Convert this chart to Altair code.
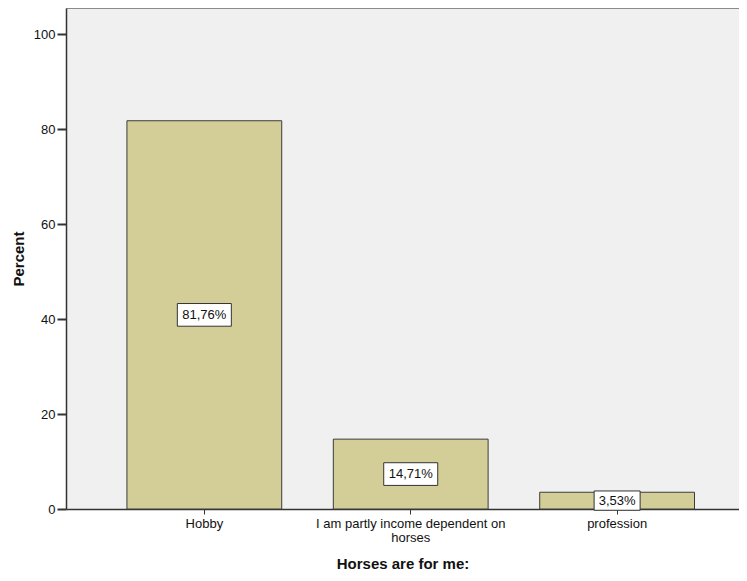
import altair as alt
import pandas as pd

categories = ["Hobby", "I am partly income dependent on horses", "profession"]
percents = [81.76, 14.71, 3.53]
labels = ["81,76%", "14,71%", "3,53%"]

df = pd.DataFrame({"cat": categories, "pct": percents, "lab": labels})

FONT = "Liberation Sans"

xscale = alt.Scale(domain=categories, paddingInner=0.25, paddingOuter=0.2554, align=0.578)
xenc = alt.X(
    "cat:N",
    scale=xscale,
    sort=categories,
    title="Horses are for me:",
    axis=alt.Axis(
        labelAngle=0,
        labelLimit=0,
        labelExpr="datum.value == 'I am partly income dependent on horses' ? ['I am partly income dependent on', 'horses'] : datum.value",
        tickSize=5,
        labelPadding=3,
        titlePadding=12,
        labelLineHeight=14,
    ),
)

base = alt.Chart(df)

bars = base.mark_bar(color="#d3ce97", stroke="#3c3c3c", strokeWidth=1).encode(
    x=xenc,
    y=alt.Y(
        "pct:Q",
        scale=alt.Scale(domain=[0, 105.5], nice=False),
        title="Percent",
        axis=alt.Axis(values=[0, 20, 40, 60, 80, 100], tickSize=9, tickWidth=2,
                      labelPadding=2, titlePadding=7, grid=False),
    ),
)

boxes = base.transform_calculate(
    mid="datum.pct / 2",
    bsize="pow(8 * length(datum.lab) + 6, 2)",
).mark_point(
    shape="M-1,-0.42L1,-0.42L1,0.42L-1,0.42Z",
    filled=True,
    color="white",
    stroke="#333333",
    strokeWidth=1,
    opacity=1,
).encode(
    x=alt.X("cat:N", scale=xscale, sort=categories),
    y=alt.Y("mid:Q"),
    size=alt.Size("bsize:Q", scale=None),
)

texts = base.transform_calculate(mid="datum.pct / 2").mark_text(
    font=FONT, fontSize=13, color="#111111"
).encode(
    x=alt.X("cat:N", scale=xscale, sort=categories),
    y=alt.Y("mid:Q"),
    text="lab:N",
)

chart = alt.layer(bars, boxes, texts).properties(
    width=673,
    height=501,
    autosize=alt.AutoSizeParams(type="none"),
    padding={"left": 58, "top": 0, "right": 0, "bottom": 62},
).configure_view(
    fill="#f0f0f0", stroke="#8a8a8a", strokeWidth=1
).configure_axis(
    labelFont=FONT, titleFont=FONT, labelFontSize=13, titleFontSize=15,
    labelColor="#111111", titleColor="#111111", titleFontWeight="bold",
    domainColor="#333333", domainWidth=1.5, tickColor="#333333",
)

chart.save("out.html", embed_options={"renderer": "svg", "actions": False})
